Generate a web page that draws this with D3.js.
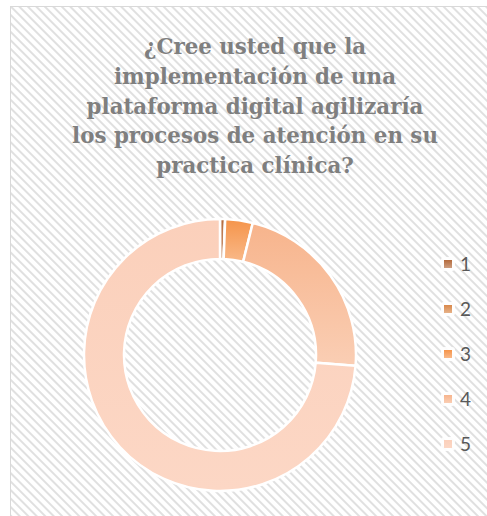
<!DOCTYPE html>
<html>
<head>
<meta charset="utf-8">
<script src="https://cdn.jsdelivr.net/npm/d3@7"></script>
<style>
  html, body { margin: 0; padding: 0; background: #fff; }
  svg { display: block; }
</style>
</head>
<body>
<script>
// chart data
const titleLines = [
  '¿Cree usted que la',
  'implementación de una',
  'plataforma digital agilizaría',
  'los procesos de atención en su',
  'practica clínica?'
];
const categories = ['1', '2', '3', '4', '5'];
const values = [1.3, 0, 7, 48, 158];
const colors = ['#b46a3c', '#d9884a', '#f5944a', '#f7b48c', '#fbd0bb'];

const [w, h] = [487, 516];

const svg = d3.select('body')
  .append('svg')
  .attr('width', w)
  .attr('height', h);

const defs = svg.append('defs');

// diagonal hatch background
const pat = defs.append('pattern')
  .attr('id', 'hatch')
  .attr('patternUnits', 'userSpaceOnUse')
  .attr('width', 6)
  .attr('height', 6)
  .attr('patternTransform', 'rotate(45)');
pat.append('rect').attr('width', 6).attr('height', 6).attr('fill', '#fff');
pat.append('line')
  .attr('x1', 0).attr('y1', 3).attr('x2', 6).attr('y2', 3)
  .attr('stroke', '#e0e0e0')
  .attr('stroke-width', 2);

svg.append('rect')
  .attr('x', 10.5)
  .attr('y', 6.5)
  .attr('width', 500)
  .attr('height', 530)
  .attr('fill', 'url(#hatch)')
  .attr('stroke', '#d9d9d9')
  .attr('stroke-width', 1);

// gradients per slice (darker on top, lighter below)
categories.forEach((c, i) => {
  const g = defs.append('linearGradient')
    .attr('id', 'grad' + i)
    .attr('x1', 0).attr('y1', 0).attr('x2', 0).attr('y2', 1);
  g.append('stop').attr('offset', '0%').attr('stop-color', colors[i]);
  g.append('stop').attr('offset', '100%')
    .attr('stop-color', d3.interpolateRgb(colors[i], '#fff')(i === 4 ? 0.15 : 0.35));
});

// title
const title = svg.append('text')
  .attr('text-anchor', 'middle')
  .attr('font-family', '"DejaVu Serif", serif')
  .attr('font-weight', 'bold')
  .attr('font-size', '21px')
  .attr('fill', '#7f7f7f');

title.selectAll('tspan')
  .data(titleLines)
  .enter()
  .append('tspan')
  .attr('x', 255)
  .attr('y', (d, i) => 54 + i * 29.8)
  .text(d => d);

// fit the longest line to the width seen in the original
const longest = title.selectAll('tspan').nodes()[3];
const fs = 21 * 366 / longest.getComputedTextLength();
title.attr('font-size', fs + 'px');

// donut
const cx = 220, cy = 355;
const outerR = 136, innerR = 96;

const pie = d3.pie()
  .sort(null)
  .value(d => d.value);

const arc = d3.arc()
  .innerRadius(innerR)
  .outerRadius(outerR);

const data = categories.map((c, i) => ({ cat: c, value: values[i], idx: i }));

const donut = svg.append('g')
  .attr('transform', `translate(${cx}, ${cy})`);

donut.selectAll('path')
  .data(pie(data))
  .enter()
  .append('path')
  .attr('d', arc)
  .attr('fill', d => `url(#grad${d.data.idx})`)
  .attr('stroke', '#fff')
  .attr('stroke-width', 2.5);

// legend
const legendY = d3.scalePoint()
  .domain(categories)
  .range([264, 444]);

const legend = svg.append('g');

const item = legend.selectAll('g')
  .data(data)
  .enter()
  .append('g')
  .attr('transform', d => `translate(448, ${legendY(d.cat)})`);

item.append('rect')
  .attr('x', -7).attr('y', -7)
  .attr('width', 14).attr('height', 14)
  .attr('rx', 3)
  .attr('fill', '#fff')
  .attr('opacity', 0.9);

item.append('rect')
  .attr('x', -4).attr('y', -4)
  .attr('width', 8).attr('height', 8)
  .attr('fill', d => `url(#grad${d.idx})`);

item.append('text')
  .attr('x', 12)
  .attr('y', 7)
  .attr('font-family', 'Lato, "Open Sans", sans-serif')
  .attr('font-size', '19px')
  .attr('fill', '#595959')
  .text(d => d.cat);
</script>
</body>
</html>
